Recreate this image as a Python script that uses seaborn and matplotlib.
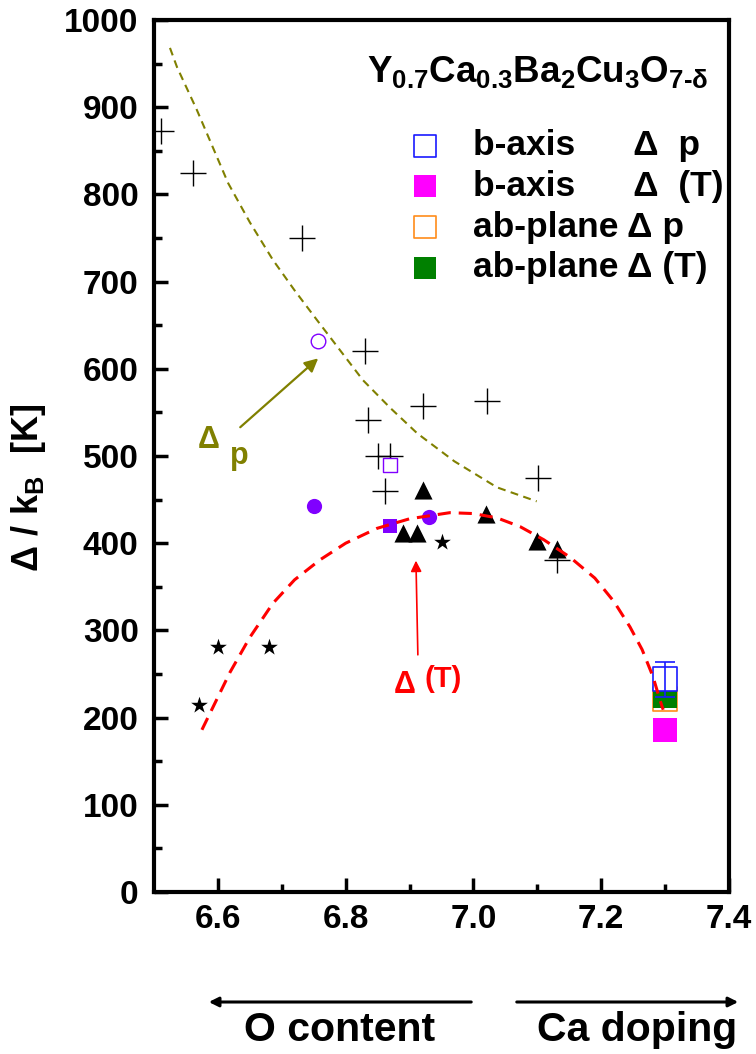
import matplotlib
matplotlib.use("Agg")
import matplotlib.pyplot as plt
import numpy as np
import pandas as pd
import seaborn as sns

# ---------------- data ----------------
cross_x = [6.511, 6.561, 6.732, 6.830, 6.835, 6.851, 6.869, 6.861, 6.921, 7.021, 7.101, 7.131]
cross_y = [873, 824, 750, 620, 541, 500, 500, 460, 557, 563, 475, 381]
star_x = [6.571, 6.600, 6.680, 6.950]
star_y = [215, 281, 281, 401]
tri_x = [6.921, 6.890, 6.912, 7.020, 7.100, 7.131]
tri_y = [461, 412, 412, 433, 402, 393]
pcirc_x = [6.750, 6.930]
pcirc_y = [443, 430]
psq_x = [6.870]
psq_y = [420]
pocirc_x = [6.757]
pocirc_y = [632]
posq_x = [6.870]
posq_y = [490]

ca_x = [7.3]
b_p_y = [244]
b_p_err = [20]
b_T_y = [186]
ab_p_y = [221]
ab_p_err = [10]
ab_T_y = [225]

# fitted guide curves
dT_x = [6.575, 6.619, 6.650, 6.686, 6.720, 6.760, 6.800, 6.849, 6.900, 6.963, 7.000,
        7.037, 7.073, 7.110, 7.151, 7.190, 7.220, 7.245, 7.264, 7.281, 7.292, 7.297]
dT_y = [186, 252, 292, 331, 358, 381, 400, 417, 428, 435, 434,
        429, 419, 404, 384, 360, 333, 304, 278, 247, 220, 209]
dp_x = [6.525, 6.536, 6.567, 6.616, 6.650, 6.686, 6.720, 6.755, 6.827, 6.870, 6.912,
        6.970, 7.037, 7.099]
dp_y = [968, 946, 897, 813, 768, 725, 690, 656, 587, 555, 526, 494, 464, 448]

legend_labels = ["b-axis      \u0394  p", "b-axis      \u0394  (T)",
                 "ab-plane \u0394 p", "ab-plane \u0394 (T)"]
title_text = r"$\mathbf{Y_{0.7}Ca_{0.3}Ba_{2}Cu_{3}O_{7\text{-}\delta}}$"
ylabel_text = r"$\mathbf{\Delta\ /\ k_{B}\ \ [K]}$"
xticks = [6.6, 6.8, 7.0, 7.2, 7.4]
xtick_labels = ["6.6", "6.8", "7.0", "7.2", "7.4"]
yticks = list(range(0, 1001, 100))

# ---------------- style ----------------
sns.set_style("ticks")
plt.rcParams["font.family"] = ["Liberation Sans", "DejaVu Sans"]
plt.rcParams["font.weight"] = "bold"
plt.rcParams["mathtext.fontset"] = "custom"
plt.rcParams["mathtext.rm"] = "Liberation Sans:bold"
plt.rcParams["mathtext.bf"] = "Liberation Sans:bold"
plt.rcParams["mathtext.it"] = "Liberation Sans:bold"
plt.rcParams["mathtext.sf"] = "Liberation Sans:bold"
for key in ["text.color", "axes.labelcolor", "xtick.color", "ytick.color",
            "axes.edgecolor"]:
    plt.rcParams[key] = "black"

fig = plt.figure(figsize=(7.56, 10.54), dpi=100)
ax = fig.add_axes([154 / 756, 1 - 892 / 1054, 575 / 756, 872 / 1054])

OLIVE = "#808000"
PURPLE = "#8000ff"

# guide curves
sns.lineplot(x=dp_x, y=dp_y, sort=False, estimator=None, ax=ax, color=OLIVE,
             lw=1.5, linestyle=(0, (3.8, 2.6)), zorder=2)
# markers
sns.scatterplot(x=cross_x, y=cross_y, marker="+", s=330, color="black",
                linewidth=1.0, ax=ax, zorder=3)
sns.scatterplot(x=star_x, y=star_y, marker="*", s=160, color="black",
                linewidth=0, ax=ax, zorder=3)
sns.scatterplot(x=tri_x, y=tri_y, marker="^", s=170, color="black",
                linewidth=0, ax=ax, zorder=3)
sns.scatterplot(x=pcirc_x, y=pcirc_y, marker="o", s=120, color=PURPLE,
                linewidth=0, ax=ax, zorder=3)
sns.scatterplot(x=psq_x, y=psq_y, marker="s", s=100, color=PURPLE,
                linewidth=0, ax=ax, zorder=3)
sns.scatterplot(x=pocirc_x, y=pocirc_y, marker="o", s=110, facecolor="white",
                edgecolor=PURPLE, linewidth=1.0, ax=ax, zorder=3)
sns.scatterplot(x=posq_x, y=posq_y, marker="s", s=90, facecolor="white",
                edgecolor=PURPLE, linewidth=1.0, ax=ax, zorder=3)

# Ca-doped points with error bars
ax.errorbar(ca_x, ab_p_y, yerr=ab_p_err, fmt="none", ecolor="#ff8c1a",
            elinewidth=1.2, capsize=7, capthick=1.2, zorder=3)
h_abp = ax.scatter(ca_x, ab_p_y, marker="s", s=300, facecolor="white",
                   edgecolor="#ff8c1a", linewidth=1.2, zorder=3.1)
h_abT = ax.scatter(ca_x, ab_T_y, marker="s", s=300, color="#008000",
                   linewidth=0, zorder=3.2)
ax.errorbar(ca_x, b_p_y, yerr=b_p_err, fmt="none", ecolor="#1a1aff",
            elinewidth=1.2, capsize=7, capthick=1.2, zorder=3.4)
h_bp = ax.scatter(ca_x, b_p_y, marker="s", s=300, facecolor="white",
                  edgecolor="#1a1aff", linewidth=1.2, zorder=3.3)
h_bT = ax.scatter(ca_x, b_T_y, marker="s", s=300, color="#ff00ff",
                  linewidth=0, zorder=3.2)

sns.lineplot(x=dT_x, y=dT_y, sort=False, estimator=None, ax=ax, color="red",
             lw=2.2, linestyle=(0, (4.3, 2.6)), zorder=4)

# axes
ax.set_xlim(6.5, 7.4)
ax.set_ylim(0, 1000)
ax.set_xticks(xticks)
ax.set_xticklabels(xtick_labels)
ax.set_xticks(np.arange(6.7, 7.4, 0.2), minor=True)
ax.set_yticks(yticks)
ax.set_yticks(np.arange(50, 1000, 100), minor=True)
for s in ax.spines.values():
    s.set_linewidth(3.0)
    s.set_visible(True)
    s.set_color("black")
ax.tick_params(which="both", direction="in", top=False, right=False,
               labelsize=24, width=2.5, pad=11, colors="black")
ax.tick_params(which="major", length=10)
ax.tick_params(which="minor", length=6)
ax.tick_params(axis="x", pad=9)
for lab in ax.get_xticklabels() + ax.get_yticklabels():
    lab.set_fontweight("bold")
ax.set_xlabel("")
ax.set_ylabel(ylabel_text, fontsize=26)
ax.yaxis.set_label_coords(-0.185, 0.464)

# title formula
ax.text(0.668, 0.94, title_text, transform=ax.transAxes, ha="center",
        va="center", fontsize=26.5)

# legend
leg = ax.legend([h_bp, h_bT, h_abp, h_abT], legend_labels,
                loc="upper left", bbox_to_anchor=(411 / 756, 1 - 129 / 1054),
                bbox_transform=fig.transFigure, frameon=False, fontsize=25.5,
                handlelength=0.8, handletextpad=0.95, labelspacing=0.22,
                borderpad=0, borderaxespad=0, markerscale=0.95)
for t in leg.get_texts():
    t.set_fontweight("bold")

# annotations
ax.text(6.586, 518, "\u0394", color=OLIVE, fontsize=22, fontweight="bold",
        ha="center", va="center")
ax.text(6.634, 500, "p", color=OLIVE, fontsize=22, fontweight="bold",
        ha="center", va="center")
ax.annotate("", xy=(6.757, 612), xytext=(6.635, 533),
            arrowprops=dict(arrowstyle="-|>", color=OLIVE, lw=1.6,
                            mutation_scale=20, shrinkA=0, shrinkB=0))
ax.text(6.893, 237, "\u0394", color="red", fontsize=22, fontweight="bold",
        ha="center", va="center")
ax.text(6.953, 244, "(T)", color="red", fontsize=21, fontweight="bold",
        ha="center", va="center")
ax.annotate("", xy=(6.910, 380), xytext=(6.913, 272),
            arrowprops=dict(arrowstyle="-|>", color="red", lw=1.2,
                            mutation_scale=16, shrinkA=0, shrinkB=0))

# bottom direction arrows and labels
fig.add_artist(matplotlib.patches.FancyArrowPatch(
    (474 / 756, 1 - 1002 / 1054), (206 / 756, 1 - 1002 / 1054),
    transform=fig.transFigure, arrowstyle="-|>", mutation_scale=14,
    color="black", lw=2.2))
fig.add_artist(matplotlib.patches.FancyArrowPatch(
    (514 / 756, 1 - 1002 / 1054), (741 / 756, 1 - 1002 / 1054),
    transform=fig.transFigure, arrowstyle="-|>", mutation_scale=14,
    color="black", lw=2.2))
fig.text(340 / 756, 1 - 1030 / 1054, "O content", ha="center", va="center",
         fontsize=29.5, fontweight="bold")
fig.text(637 / 756, 1 - 1030 / 1054, "Ca doping", ha="center", va="center",
         fontsize=29.5, fontweight="bold")

fig.savefig("out.png", dpi=100)
